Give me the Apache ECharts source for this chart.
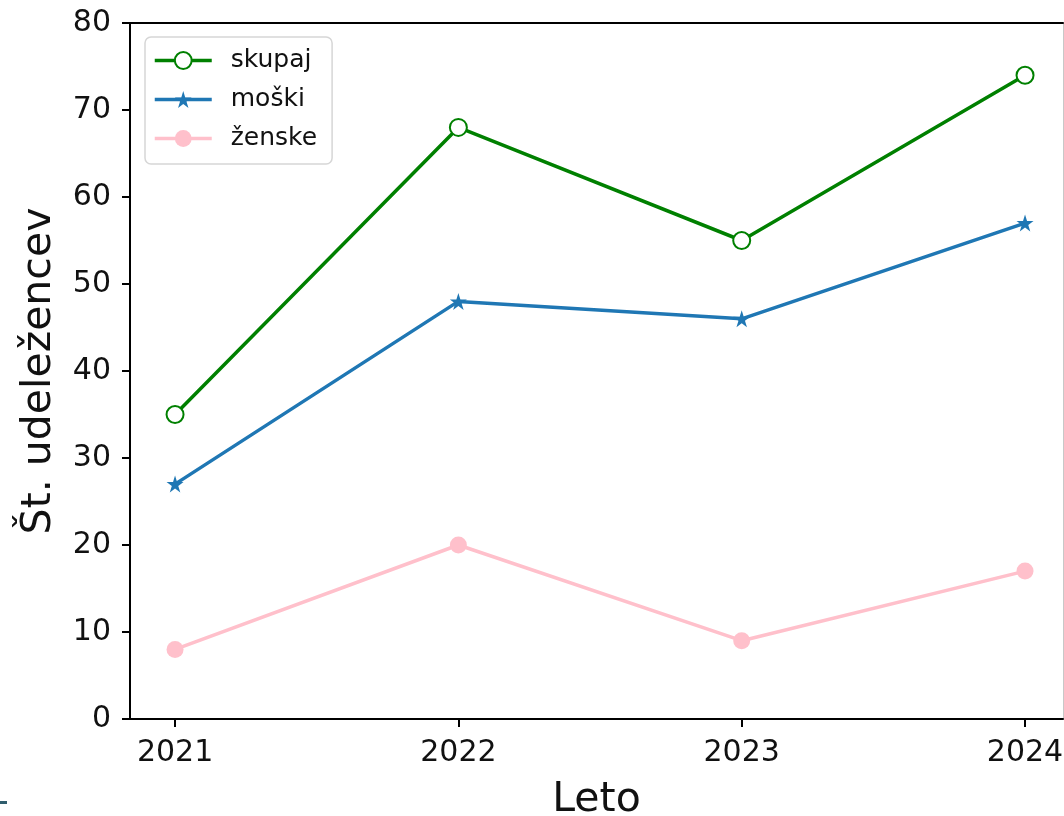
<!DOCTYPE html>
<html>
<head>
<meta charset="utf-8">
<script src="https://cdn.jsdelivr.net/npm/echarts@6/dist/echarts.min.js"></script>
<style>
html,body{margin:0;padding:0;background:#fff;}
#chart{width:1064px;height:816px;}
</style>
</head>
<body>
<div id="chart"></div>
<script>
const years = ['2021', '2022', '2023', '2024'];
const skupaj = [35, 68, 55, 74];
const moski = [27, 48, 46, 57];
const zenske = [8, 20, 9, 17];
const yTicks = [0, 10, 20, 30, 40, 50, 60, 70, 80];

const FONT = 'DejaVu Sans';
const STAR = 'path://M0,-1L0.2245,-0.309L0.951,-0.309L0.363,0.118L0.588,0.809L0,0.382L-0.588,0.809L-0.363,0.118L-0.951,-0.309L-0.2245,-0.309Z';

function pts(arr) { return arr.map((v, i) => [i, v]); }

const chart = echarts.init(document.getElementById('chart'));
chart.setOption({
  animation: false,
  backgroundColor: '#fff',
  textStyle: { fontFamily: FONT },
  grid: { left: 130, top: 23, width: 933, height: 696, show: false, containLabel: false, outerBoundsMode: 'none' },
  xAxis: [{
    type: 'value', min: -0.159, max: 3.134,
    name: 'Leto', nameLocation: 'middle', nameGap: 61,
    nameTextStyle: { fontSize: 41, color: '#111', fontFamily: FONT },
    axisLine: { show: true, onZero: false, lineStyle: { color: '#000', width: 2 } },
    axisTick: { show: true, length: 8, inside: false, customValues: [0, 1, 2, 3], lineStyle: { color: '#000', width: 2 } },
    axisLabel: { show: true, customValues: [0, 1, 2, 3], margin: 19, fontSize: 30, color: '#111', fontFamily: FONT,
      formatter: v => years[Math.round(v)] },
    splitLine: { show: false }
  }, {
    type: 'value', min: -0.159, max: 3.134, position: 'top',
    axisLine: { show: true, onZero: false, lineStyle: { color: '#000', width: 2 } },
    axisTick: { show: false }, axisLabel: { show: false }, splitLine: { show: false }
  }],
  yAxis: [{
    type: 'value', min: 0, max: 80, interval: 10,
    name: 'Št. udeležencev', nameLocation: 'middle', nameGap: 70, nameRotate: 90,
    nameTextStyle: { fontSize: 41, color: '#111', fontFamily: FONT },
    axisLine: { show: true, onZero: false, lineStyle: { color: '#000', width: 2 } },
    axisTick: { show: true, length: 8, inside: false, lineStyle: { color: '#000', width: 2 } },
    axisLabel: { margin: 19, fontSize: 30, color: '#111', fontFamily: FONT,
      formatter: v => yTicks.includes(v) ? String(v) : '' },
    splitLine: { show: false }
  }, {
    type: 'value', min: 0, max: 80, position: 'right',
    axisLine: { show: true, onZero: false, lineStyle: { color: '#c8c8c8', width: 1 } },
    axisTick: { show: false }, axisLabel: { show: false }, splitLine: { show: false }
  }],
  legend: {
    orient: 'vertical', left: 145, top: 37,
    padding: [11, 15, 13, 8],
    itemWidth: 57, itemHeight: 21, itemGap: 14,
    borderColor: '#d6d6d6', borderWidth: 1.5, borderRadius: 6,
    backgroundColor: 'rgba(255,255,255,0.8)',
    lineStyle: { width: 3.5 },
    textStyle: { fontSize: 25, color: '#111', fontFamily: FONT, padding: [0, 0, 0, 14] },
    data: ['skupaj', 'moški', 'ženske']
  },
  series: [
    { name: 'skupaj', type: 'line', data: pts(skupaj), symbol: 'emptyCircle', symbolSize: 17,
      lineStyle: { color: '#008000', width: 3.5 }, itemStyle: { color: '#008000', borderColor: '#008000', borderWidth: 2.5 }, z: 3 },
    { name: 'moški', type: 'line', data: pts(moski), symbol: STAR, symbolSize: 17,
      lineStyle: { color: '#1f77b4', width: 3.5 }, itemStyle: { color: '#1f77b4' }, z: 2 },
    { name: 'ženske', type: 'line', data: pts(zenske), symbol: 'circle', symbolSize: 17,
      lineStyle: { color: '#ffc0cb', width: 3.5 }, itemStyle: { color: '#ffc0cb' }, z: 1 }
  ],
  graphic: [
    { type: 'rect', left: 0, top: 801, shape: { width: 7, height: 3 }, style: { fill: '#2f5d6d' } }
  ]
});
</script>
</body>
</html>
